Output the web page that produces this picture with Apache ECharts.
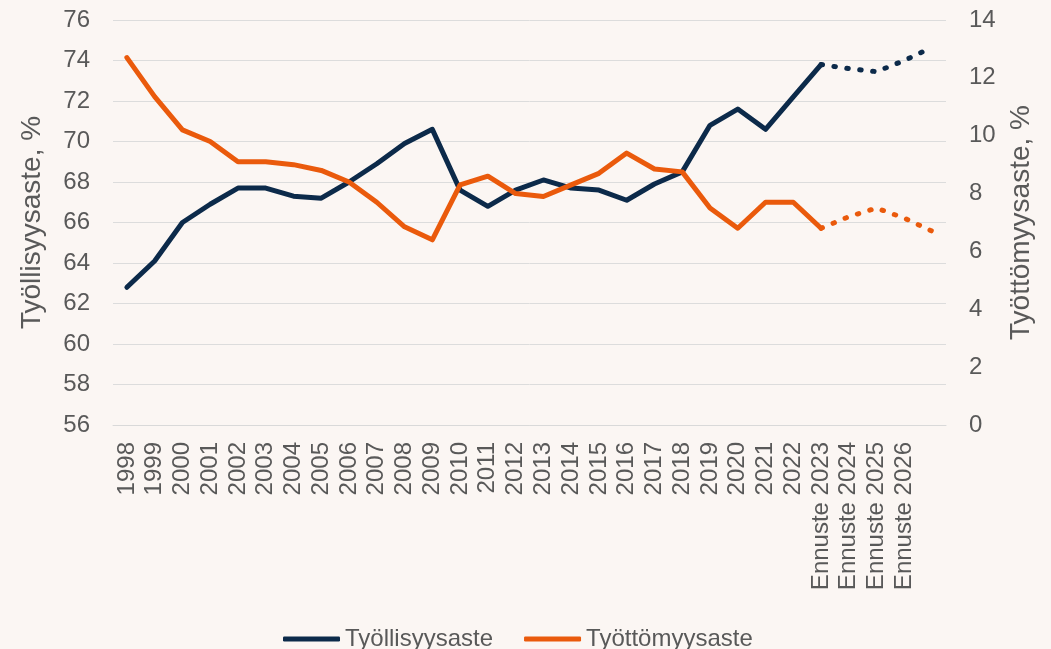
<!DOCTYPE html>
<html>
<head>
<meta charset="utf-8">
<script src="https://cdn.jsdelivr.net/npm/echarts@6/dist/echarts.min.js"></script>
<style>
html,body{margin:0;padding:0;background:#fbf6f3;}
#chart{width:1051px;height:649px;}
</style>
</head>
<body>
<div id="chart"></div>
<script>
const categories = ['1998','1999','2000','2001','2002','2003','2004','2005','2006','2007','2008','2009','2010','2011','2012','2013','2014','2015','2016','2017','2018','2019','2020','2021','2022','Ennuste 2023','Ennuste 2024','Ennuste 2025','Ennuste 2026',''];
const employment = [62.8, 64.1, 66.0, 66.9, 67.7, 67.7, 67.3, 67.2, 68.0, 68.9, 69.9, 70.6, 67.6, 66.8, 67.6, 68.1, 67.7, 67.6, 67.1, 67.9, 68.5, 70.8, 71.6, 70.6, 72.2, 73.8];
const employmentForecast = [73.8, 73.6, 73.45, 74.0, 74.65];
const unemployment = [12.7, 11.35, 10.2, 9.8, 9.1, 9.1, 9.0, 8.8, 8.4, 7.7, 6.85, 6.4, 8.3, 8.6, 8.0, 7.9, 8.3, 8.7, 9.4, 8.85, 8.75, 7.5, 6.8, 7.7, 7.7, 6.8];
const unemploymentForecast = [6.8, 7.2, 7.5, 7.15, 6.7];
const leftTicks = {min: 56, max: 76, interval: 2};
const rightTicks = {min: 0, max: 14, interval: 2};

const forecastStart = employment.length - 1;
function pad(arr, start, total) {
  const out = new Array(total).fill(null);
  arr.forEach((v, i) => { out[start + i] = v; });
  return out;
}
const N = categories.length;
const blue = '#0c2a4a';
const orange = '#ea5a0c';
const txt = '#595959';
const font = 'Liberation Sans, Arial, sans-serif';

const chart = echarts.init(document.getElementById('chart'));
chart.setOption({
  backgroundColor: '#fbf6f3',
  animation: false,
  grid: {left: 113, right: 105, top: 20, bottom: 224, containLabel: false},
  legend: {
    data: ['Työllisyysaste', 'Työttömyysaste'],
    left: 278, top: 622,
    icon: 'roundRect', itemWidth: 57, itemHeight: 5, itemGap: 31,
    textStyle: {color: txt, fontSize: 24, fontFamily: font}
  },
  xAxis: {
    type: 'category', data: categories, boundaryGap: true,
    axisLine: {lineStyle: {color: '#d9d9d9', width: 1}},
    axisTick: {show: false},
    axisLabel: {rotate: 90, interval: 0, color: txt, fontSize: 24, fontFamily: font, margin: 17}
  },
  yAxis: [{
    type: 'value', min: leftTicks.min, max: leftTicks.max, interval: leftTicks.interval,
    name: 'Työllisyysaste, %', nameLocation: 'middle', nameGap: 67, nameRotate: 90,
    nameTextStyle: {color: txt, fontSize: 28, fontFamily: font},
    axisLine: {show: false}, axisTick: {show: false},
    splitLine: {lineStyle: {color: '#dcdcdc', width: 1}},
    axisLabel: {color: txt, fontSize: 24, fontFamily: font, margin: 23}
  }, {
    type: 'value', min: rightTicks.min, max: rightTicks.max, interval: rightTicks.interval,
    name: 'Työttömyysaste, %', nameLocation: 'middle', nameGap: 61, nameRotate: 90,
    nameTextStyle: {color: txt, fontSize: 28, fontFamily: font},
    axisLine: {show: false}, axisTick: {show: false},
    splitLine: {show: false},
    axisLabel: {color: txt, fontSize: 24, fontFamily: font, margin: 23}
  }],
  series: [{
    name: 'Työllisyysaste', type: 'line', yAxisIndex: 0,
    data: pad(employment, 0, N), showSymbol: false, symbol: 'none',
    lineStyle: {color: blue, width: 5, join: 'round', cap: 'round'},
    itemStyle: {color: blue}
  }, {
    name: 'Työllisyysaste ennuste', type: 'line', yAxisIndex: 0,
    data: pad(employmentForecast, forecastStart, N), showSymbol: false, symbol: 'none',
    lineStyle: {color: blue, width: 5, type: [1.5, 11.5], cap: 'round'},
    itemStyle: {color: blue}
  }, {
    name: 'Työttömyysaste', type: 'line', yAxisIndex: 1,
    data: pad(unemployment, 0, N), showSymbol: false, symbol: 'none',
    lineStyle: {color: orange, width: 5, join: 'round', cap: 'round'},
    itemStyle: {color: orange}
  }, {
    name: 'Työttömyysaste ennuste', type: 'line', yAxisIndex: 1,
    data: pad(unemploymentForecast, forecastStart, N), showSymbol: false, symbol: 'none',
    lineStyle: {color: orange, width: 5, type: [1.5, 11.5], cap: 'round'},
    itemStyle: {color: orange}
  }]
});
</script>
</body>
</html>
